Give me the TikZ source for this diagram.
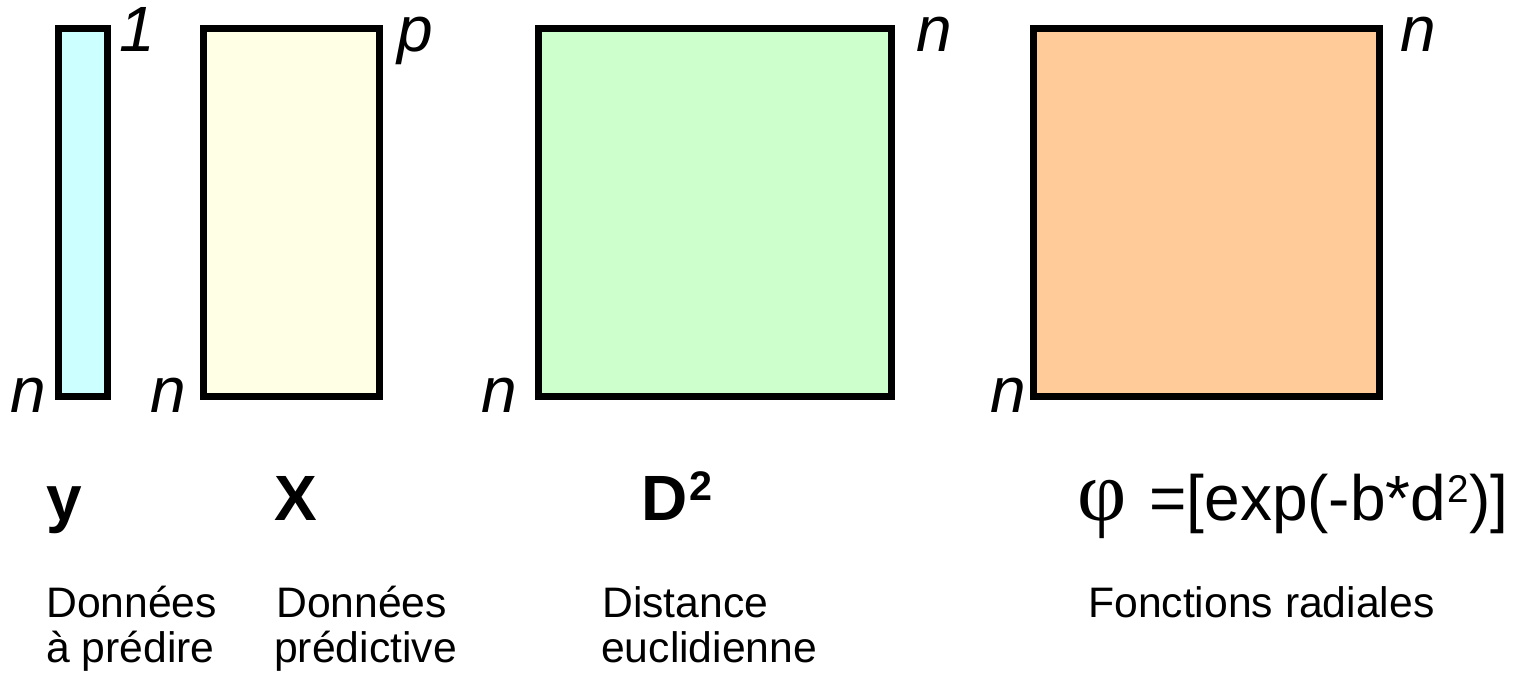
\documentclass[tikz,border=0pt]{standalone}
\usepackage{fontspec}
\setmainfont{Liberation Sans}
\newfontfamily\phifont{Liberation Serif}
\definecolor{cyanfill}{HTML}{CCFFFF}
\definecolor{yellowfill}{HTML}{FFFFE6}
\definecolor{greenfill}{HTML}{CCFFCC}
\definecolor{orangefill}{HTML}{FFCC99}
\newcommand{\supnum}[2]{\raise#1\hbox{\fontsize{#2}{#2}\selectfont 2}}
\begin{document}
\begin{tikzpicture}[x=0.75pt,y=-0.75pt,
  mat/.style={draw=black,line width=5.25pt,inner sep=0pt,outer sep=0pt},
  dimlab/.style={anchor=base west,inner sep=0pt,font=\fontsize{48}{48}\selectfont\itshape},
  namelab/.style={anchor=base west,inner sep=0pt,font=\fontsize{48}{48}\selectfont\bfseries},
  desc/.style={anchor=base west,inner sep=0pt,font=\fontsize{32}{32}\selectfont}]
\useasboundingbox (0,0) rectangle (1514,673);
% matrices
\node[mat,fill=cyanfill,minimum width=36.75pt,minimum height=276pt] (ymat) at (83,212.5) {};
\node[mat,fill=yellowfill,minimum width=132pt,minimum height=276pt] (xmat) at (291,212.5) {};
\node[mat,fill=greenfill,minimum width=265.1pt,minimum height=276pt] (dmat) at (715.25,212.5) {};
\node[mat,fill=orangefill,minimum width=259.3pt,minimum height=276pt] (phimat) at (1206.35,212.5) {};
% dimension labels
\node[dimlab] (y1) at (119,52) {1};
\node[dimlab] (xp) at (397,52) {p};
\node[dimlab] (dn1) at (916,52) {n};
\node[dimlab] (pn1) at (1400,52) {n};
\node[dimlab] (yn) at (10,413) {n};
\node[dimlab] (xn) at (150,413) {n};
\node[dimlab] (dn2) at (481,413) {n};
\node[dimlab] (pn2) at (990,413) {n};
% names
\node[namelab] (yname) at (46,520) {y};
\node[namelab] (xname) at (274,520) {X};
\node[namelab] (dname) at (641,520) {D\kern1.5pt\supnum{15pt}{31}};
\node[anchor=base west,inner sep=0pt,font=\fontsize{64}{64}\selectfont\phifont] (phiname) at (1077,520) {φ};
\node[anchor=base west,inner sep=0pt,font=\fontsize{48}{48}\selectfont] (phiform) at (1149,520) {=[exp(-b*d\kern1pt\supnum{13pt}{29})]};
% descriptions
\node[desc] (d1a) at (46,617) {Données};
\node[desc] (d1b) at (46,662) {à prédire};
\node[desc] (d2a) at (276,617) {Données};
\node[desc] (d2b) at (274,662) {prédictive};
\node[desc] (d3a) at (602,617) {Distance};
\node[desc] (d3b) at (601,662) {euclidienne};
\node[desc] (d4a) at (1088,617) {Fonctions radiales};
\end{tikzpicture}
\end{document}
